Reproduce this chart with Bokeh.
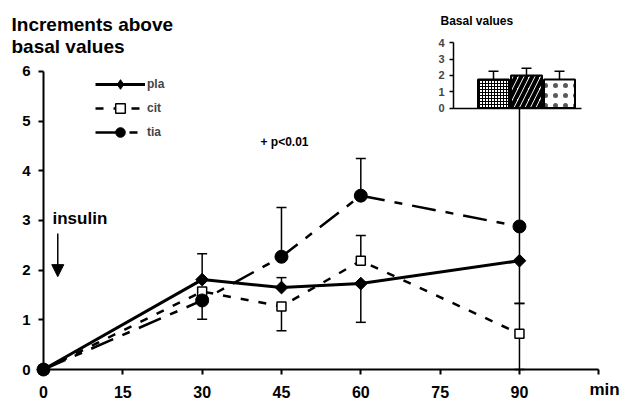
from bokeh.plotting import figure
from bokeh.models import (Range1d, LinearAxis, FixedTicker, Whisker, TeeHead,
                          ColumnDataSource, Legend, LegendItem, Label, Arrow, NormalHead)
from bokeh.embed import file_html
from bokeh.resources import INLINE

# ---------------- data ----------------
minutes = [0, 30, 45, 60, 90]
pla = [0.0, 1.81, 1.65, 1.73, 2.19]
cit = [0.0, 1.57, 1.27, 2.19, 0.72]
tia = [0.0, 1.39, 2.27, 3.50, 2.88]

# error-bar ends as drawn (None = not drawn)
pla_upper = [None, 2.33, 1.85, None, None]
pla_lower = [None, None, None, 0.95, 1.33]
cit_upper = [None, None, None, 2.70, 1.33]
cit_lower = [None, None, 0.78, None, 0.0]
tia_upper = [None, None, 3.26, 4.25, 5.27]
tia_lower = [None, 1.01, None, None, 2.19]

x_ticks = [0, 15, 30, 45, 60, 75, 90, 105]
y_ticks = [0, 1, 2, 3, 4, 5, 6]

basal_groups = ["pla", "cit", "tia"]
basal_pos = [1, 2, 3]
basal_mean = [1.75, 2.0, 1.75]
basal_upper = [2.26, 2.45, 2.26]
basal_ticks = [0, 1, 2, 3, 4]

FONT = "Liberation Sans"
W, H = 625, 401

p = figure(width=W, height=H, x_range=Range1d(-8.13, 110.05), y_range=Range1d(-0.644, 7.429),
           x_axis_type=None, y_axis_type=None, toolbar_location=None, output_backend="svg",
           min_border=0)
p.outline_line_color = None
p.extra_x_ranges = {"ix": Range1d(-13.939, 5.0)}
p.extra_y_ranges = {"iy": Range1d(-18.06, 6.615)}

# ---------------- main axes ----------------
xax = LinearAxis(fixed_location=0, bounds=(0, 105), ticker=FixedTicker(ticks=x_ticks),
                 major_label_overrides={105: ""})
yax = LinearAxis(fixed_location=0, bounds=(0, 6), ticker=FixedTicker(ticks=y_ticks))
for ax in (xax, yax):
    ax.axis_line_width = 2
    ax.axis_line_color = "black"
    ax.major_tick_line_width = 2
    ax.major_tick_in = 0
    ax.major_tick_out = 5
    ax.minor_tick_line_color = None
    ax.major_label_text_font = FONT
    ax.major_label_text_font_style = "bold"
    ax.major_label_text_color = "black"
xax.major_label_text_font_size = "16px"
xax.major_label_standoff = 11
yax.major_label_text_font_size = "15px"
yax.major_label_standoff = 8
p.add_layout(xax, "below")
p.add_layout(yax, "left")

# ---------------- inset axes ----------------
iyax = LinearAxis(x_range_name="ix", y_range_name="iy", fixed_location=-0.212, bounds=(0, 4),
                  ticker=FixedTicker(ticks=basal_ticks))
iyax.axis_line_width = 1.5
iyax.major_tick_line_width = 1.5
iyax.major_tick_in = 0
iyax.major_tick_out = 4
iyax.minor_tick_line_color = None
iyax.major_label_text_font = FONT
iyax.major_label_text_font_style = "bold"
iyax.major_label_text_font_size = "11px"
iyax.major_label_standoff = 5
p.add_layout(iyax, "left")

ixax = LinearAxis(x_range_name="ix", y_range_name="iy", fixed_location=0, bounds=(-0.212, 3.667),
                  ticker=FixedTicker(ticks=[]))
ixax.axis_line_width = 1.5
ixax.major_label_text_font_size = "0px"
ixax.major_tick_line_color = None
ixax.minor_tick_line_color = None
p.add_layout(ixax, "below")

# ---------------- error bars ----------------
def whiskers(xs, ys, ends, upward, xr=None, yr=None):
    pts = [(x, y, e) for x, y, e in zip(xs, ys, ends) if e is not None]
    if not pts:
        return
    src = ColumnDataSource(dict(base=[t[0] for t in pts],
                                lower=[min(t[1], t[2]) for t in pts],
                                upper=[max(t[1], t[2]) for t in pts]))
    head = TeeHead(size=10, line_width=1.5, line_color="black")
    kw = dict(source=src, base="base", lower="lower", upper="upper",
              line_width=1.5, line_color="black",
              upper_head=head if upward else None,
              lower_head=None if upward else head)
    if xr:
        kw["x_range_name"] = xr
    if yr:
        kw["y_range_name"] = yr
    p.add_layout(Whisker(**kw))

whiskers(minutes, pla, pla_upper, True)
whiskers(minutes, pla, pla_lower, False)
whiskers(minutes, cit, cit_upper, True)
whiskers(minutes, cit, cit_lower, False)
whiskers(minutes, tia, tia_upper, True)
whiskers(minutes, tia, tia_lower, False)
whiskers(basal_pos, basal_mean, basal_upper, True, "ix", "iy")

# ---------------- inset bars ----------------
bar_styles = [
    dict(hatch_pattern="cross", hatch_scale=3, hatch_weight=1, hatch_alpha=1.0),
    dict(hatch_pattern="right_diagonal_line", hatch_scale=11, hatch_weight=4, hatch_alpha=1.0),
    dict(hatch_pattern="dot", hatch_scale=10, hatch_weight=1, hatch_alpha=0.65),
]
for xpos, val, st in zip(basal_pos, basal_mean, bar_styles):
    p.vbar(x=[xpos], top=[val], bottom=0, width=0.94, x_range_name="ix", y_range_name="iy",
           fill_color="white", line_color="black", line_width=2, hatch_color="black", **st)

# ---------------- series ----------------
l_pla = p.line(minutes, pla, line_width=3, line_color="black")
l_cit = p.line(minutes, cit, line_width=2.5, line_color="black", line_dash="8 10")
l_tia = p.line(minutes, tia, line_width=2.5, line_color="black", line_dash="24 10 8 10")
m_cit = p.scatter(minutes, cit, marker="square", size=9, fill_color="white", line_color="black", line_width=1.5)
m_tia = p.scatter(minutes, tia, marker="circle", size=13, fill_color="black", line_color="black")
m_pla = p.scatter(minutes, pla, marker="square", angle=0.785398, size=9, fill_color="black", line_color="black")
# legend key for the diamond (the legend does not rotate markers); sits hidden at the origin
k_pla = p.scatter(minutes[:1], pla[:1], marker="diamond", size=10, fill_color="black", line_color="black")

legend = Legend(items=[LegendItem(label="pla", renderers=[l_pla, k_pla]),
                       LegendItem(label="cit", renderers=[l_cit, m_cit]),
                       LegendItem(label="tia", renderers=[l_tia, m_tia])],
                location=(95, H - 144), glyph_width=50, glyph_height=24, label_height=24,
                spacing=0, padding=0, margin=0, label_standoff=2,
                label_text_font=FONT, label_text_font_style="bold", label_text_font_size="12px",
                border_line_color=None, background_fill_alpha=0)
p.add_layout(legend)

# ---------------- texts ----------------
def lab(text, px, py, size, align="left"):
    p.add_layout(Label(x=px, y=H - py + 4, x_units="screen", y_units="screen", text=text,
                       text_font=FONT, text_font_style="bold", text_font_size=size,
                       text_align=align, text_baseline="alphabetic", text_color="black"))

lab("Increments above", 11, 28, "19px")
lab("basal values", 11, 50, "19px")
lab("insulin", 52, 222, "17px")
lab("+ p<0.01", 260, 145, "12px")
lab("Basal values", 440, 24, "12px")
lab("min", 589, 393, "17px")

p.add_layout(Arrow(end=NormalHead(size=12, fill_color="black", line_color="black"),
                   x_start=2.7, y_start=2.74, x_end=2.7, y_end=1.87, line_width=1.5, line_color="black"))

open("out.html", "w").write(file_html(p, INLINE))
